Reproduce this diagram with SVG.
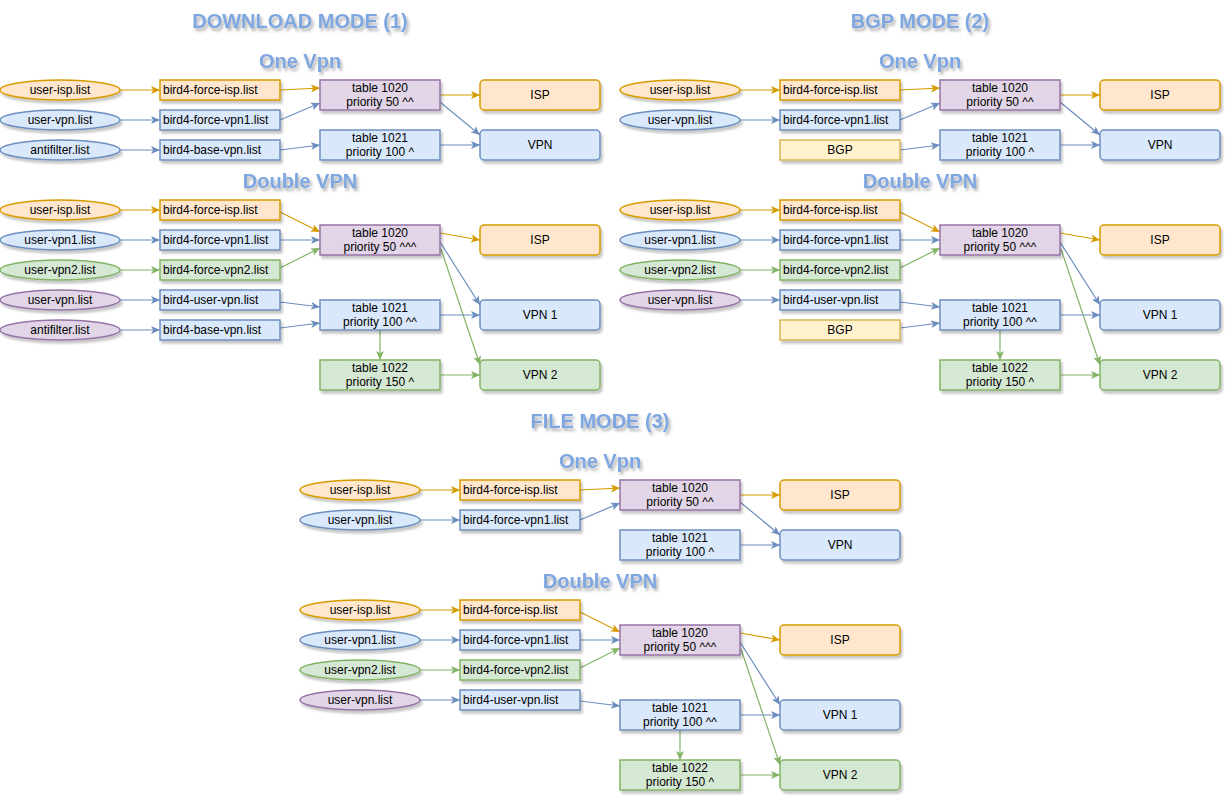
<svg xmlns="http://www.w3.org/2000/svg" xmlns:xlink="http://www.w3.org/1999/xlink" width="1232" height="810" viewBox="0 0 1232 810">
<style>
.o{fill:#ffe6cc;stroke:#d79b00}
.b{fill:#dae8fc;stroke:#6c8ebf}
.g{fill:#d5e8d4;stroke:#82b366}
.p{fill:#e1d5e7;stroke:#9673a6}
.y{fill:#fff2cc;stroke:#d6b656}
rect,ellipse{stroke-width:1.5;filter:url(#sh)}
text{font-family:"Liberation Sans",Arial,sans-serif;font-size:12px;fill:#000}
.c{text-anchor:middle}
.h{font-size:20px;font-weight:bold;fill:#7ea6e0;text-anchor:middle;filter:url(#ts)}
.eo{stroke:#d79b00;fill:none;stroke-width:1.2;marker-end:url(#ao)}
.eb{stroke:#6c8ebf;fill:none;stroke-width:1.2;marker-end:url(#ab)}
.eg{stroke:#82b366;fill:none;stroke-width:1.2;marker-end:url(#ag)}
</style>
<defs>
<filter id="sh" x="-20%" y="-30%" width="140%" height="170%"><feDropShadow dx="2" dy="3" stdDeviation="1.2" flood-color="#000" flood-opacity="0.22"/></filter>
<filter id="ts" x="-10%" y="-30%" width="120%" height="170%"><feDropShadow dx="2" dy="3" stdDeviation="1.5" flood-color="#000" flood-opacity="0.3"/></filter>
<marker id="ao" markerUnits="userSpaceOnUse" markerWidth="10" markerHeight="10" viewBox="0 0 10 10" refX="9" refY="5" orient="auto"><path d="M0,1 L9,5 L0,9 L2.2,5 z" fill="#d79b00"/></marker>
<marker id="ab" markerUnits="userSpaceOnUse" markerWidth="10" markerHeight="10" viewBox="0 0 10 10" refX="9" refY="5" orient="auto"><path d="M0,1 L9,5 L0,9 L2.2,5 z" fill="#6c8ebf"/></marker>
<marker id="ag" markerUnits="userSpaceOnUse" markerWidth="10" markerHeight="10" viewBox="0 0 10 10" refX="9" refY="5" orient="auto"><path d="M0,1 L9,5 L0,9 L2.2,5 z" fill="#82b366"/></marker>
</defs>
<rect x="0" y="0" width="1232" height="810" fill="#ffffff" style="filter:none;stroke:none"/>

<g id="titles">
<text class="h" x="300" y="28">DOWNLOAD MODE (1)</text>
<text class="h" x="300" y="68">One Vpn</text>
<text class="h" x="300" y="188">Double VPN</text>
<text class="h" x="920" y="28">BGP MODE (2)</text>
<text class="h" x="920" y="68">One Vpn</text>
<text class="h" x="920" y="188">Double VPN</text>
<text class="h" x="600" y="428">FILE MODE (3)</text>
<text class="h" x="600" y="468">One Vpn</text>
<text class="h" x="600" y="588">Double VPN</text>
</g>

<!-- DOWNLOAD MODE -->
<g id="download">
<g id="connectors-d">
<path class="eo" d="M120,90 L160,90"/>
<path class="eb" d="M120,120 L160,120"/>
<path class="eb" d="M120,150 L160,150"/>
<path class="eo" d="M280,90 L320,88"/>
<path class="eb" d="M280,120 L320,103"/>
<path class="eb" d="M280,150 L320,145"/>
<path class="eo" d="M440,95 L480,95"/>
<path class="eb" d="M440,102 L480,135"/>
<path class="eb" d="M440,145 L480,145"/>
<path class="eo" d="M120,210 L160,210"/>
<path class="eb" d="M120,240 L160,240"/>
<path class="eg" d="M120,270 L160,270"/>
<path class="eb" d="M120,300 L160,300"/>
<path class="eb" d="M120,330 L160,330"/>
<path class="eo" d="M280,212 L320,232"/>
<path class="eb" d="M280,240 L320,240"/>
<path class="eg" d="M280,268 L320,248"/>
<path class="eb" d="M280,302 L320,307"/>
<path class="eb" d="M280,328 L320,323"/>
<path class="eo" d="M440,233 L480,240"/>
<path class="eb" d="M440,242 L480,305"/>
<path class="eg" d="M441,249 L480,365"/>
<path class="eb" d="M440,315 L480,315"/>
<path class="eg" d="M380,330 L380,360"/>
<path class="eg" d="M440,375 L480,375"/>
</g>
<g id="d1-user-isp"><ellipse class="o" cx="60" cy="90" rx="60" ry="10"/><text class="c" x="60" y="94">user-isp.list</text></g>
<g id="d1-user-vpn"><ellipse class="b" cx="60" cy="120" rx="60" ry="10"/><text class="c" x="60" y="124">user-vpn.list</text></g>
<g id="d1-antifilter"><ellipse class="b" cx="60" cy="150" rx="60" ry="10"/><text class="c" x="60" y="154">antifilter.list</text></g>
<g id="d1-force-isp"><rect class="o" x="160" y="80" width="120" height="20"/><text x="163" y="94">bird4-force-isp.list</text></g>
<g id="d1-force-vpn1"><rect class="b" x="160" y="110" width="120" height="20"/><text x="163" y="124">bird4-force-vpn1.list</text></g>
<g id="d1-base-vpn"><rect class="b" x="160" y="140" width="120" height="20"/><text x="163" y="154">bird4-base-vpn.list</text></g>
<g id="d1-t1020"><rect class="p" x="320" y="80" width="120" height="30"/><text class="c" x="380" y="92">table 1020</text><text class="c" x="380" y="106">priority 50 ^^</text></g>
<g id="d1-t1021"><rect class="b" x="320" y="130" width="120" height="30"/><text class="c" x="380" y="142">table 1021</text><text class="c" x="380" y="156">priority 100 ^</text></g>
<g id="d1-isp"><rect class="o" x="480" y="80" width="120" height="30" rx="4"/><text class="c" x="540" y="99">ISP</text></g>
<g id="d1-vpn"><rect class="b" x="480" y="130" width="120" height="30" rx="4"/><text class="c" x="540" y="149">VPN</text></g>

<g id="d2-user-isp"><ellipse class="o" cx="60" cy="210" rx="60" ry="10"/><text class="c" x="60" y="214">user-isp.list</text></g>
<g id="d2-user-vpn1"><ellipse class="b" cx="60" cy="240" rx="60" ry="10"/><text class="c" x="60" y="244">user-vpn1.list</text></g>
<g id="d2-user-vpn2"><ellipse class="g" cx="60" cy="270" rx="60" ry="10"/><text class="c" x="60" y="274">user-vpn2.list</text></g>
<g id="d2-user-vpn"><ellipse class="p" cx="60" cy="300" rx="60" ry="10"/><text class="c" x="60" y="304">user-vpn.list</text></g>
<g id="d2-antifilter"><ellipse class="p" cx="60" cy="330" rx="60" ry="10"/><text class="c" x="60" y="334">antifilter.list</text></g>
<g id="d2-force-isp"><rect class="o" x="160" y="200" width="120" height="20"/><text x="163" y="214">bird4-force-isp.list</text></g>
<g id="d2-force-vpn1"><rect class="b" x="160" y="230" width="120" height="20"/><text x="163" y="244">bird4-force-vpn1.list</text></g>
<g id="d2-force-vpn2"><rect class="g" x="160" y="260" width="120" height="20"/><text x="163" y="274">bird4-force-vpn2.list</text></g>
<g id="d2-user-vpn-list"><rect class="b" x="160" y="290" width="120" height="20"/><text x="163" y="304">bird4-user-vpn.list</text></g>
<g id="d2-base-vpn"><rect class="b" x="160" y="320" width="120" height="20"/><text x="163" y="334">bird4-base-vpn.list</text></g>
<g id="d2-t1020"><rect class="p" x="320" y="225" width="120" height="30"/><text class="c" x="380" y="237">table 1020</text><text class="c" x="380" y="251">priority 50 ^^^</text></g>
<g id="d2-t1021"><rect class="b" x="320" y="300" width="120" height="30"/><text class="c" x="380" y="312">table 1021</text><text class="c" x="380" y="326">priority 100 ^^</text></g>
<g id="d2-t1022"><rect class="g" x="320" y="360" width="120" height="30"/><text class="c" x="380" y="372">table 1022</text><text class="c" x="380" y="386">priority 150 ^</text></g>
<g id="d2-isp"><rect class="o" x="480" y="225" width="120" height="30" rx="4"/><text class="c" x="540" y="244">ISP</text></g>
<g id="d2-vpn1"><rect class="b" x="480" y="300" width="120" height="30" rx="4"/><text class="c" x="540" y="319">VPN 1</text></g>
<g id="d2-vpn2"><rect class="g" x="480" y="360" width="120" height="30" rx="4"/><text class="c" x="540" y="379">VPN 2</text></g>
</g>

<!-- BGP MODE -->
<g id="bgp" transform="translate(620,0)">
<g id="connectors-b">
<path class="eo" d="M120,90 L160,90"/>
<path class="eb" d="M120,120 L160,120"/>
<path class="eo" d="M280,90 L320,88"/>
<path class="eb" d="M280,120 L320,103"/>
<path class="eb" d="M280,150 L320,145"/>
<path class="eo" d="M440,95 L480,95"/>
<path class="eb" d="M440,102 L480,135"/>
<path class="eb" d="M440,145 L480,145"/>
<path class="eo" d="M120,210 L160,210"/>
<path class="eb" d="M120,240 L160,240"/>
<path class="eg" d="M120,270 L160,270"/>
<path class="eb" d="M120,300 L160,300"/>
<path class="eo" d="M280,212 L320,232"/>
<path class="eb" d="M280,240 L320,240"/>
<path class="eg" d="M280,268 L320,248"/>
<path class="eb" d="M280,302 L320,307"/>
<path class="eb" d="M280,328 L320,323"/>
<path class="eo" d="M440,233 L480,240"/>
<path class="eb" d="M440,242 L480,305"/>
<path class="eg" d="M441,249 L480,365"/>
<path class="eb" d="M440,315 L480,315"/>
<path class="eg" d="M380,330 L380,360"/>
<path class="eg" d="M440,375 L480,375"/>
</g>
<g id="b1-user-isp"><ellipse class="o" cx="60" cy="90" rx="60" ry="10"/><text class="c" x="60" y="94">user-isp.list</text></g>
<g id="b1-user-vpn"><ellipse class="b" cx="60" cy="120" rx="60" ry="10"/><text class="c" x="60" y="124">user-vpn.list</text></g>
<g id="b1-force-isp"><rect class="o" x="160" y="80" width="120" height="20"/><text x="163" y="94">bird4-force-isp.list</text></g>
<g id="b1-force-vpn1"><rect class="b" x="160" y="110" width="120" height="20"/><text x="163" y="124">bird4-force-vpn1.list</text></g>
<g id="b1-bgp"><rect class="y" x="160" y="140" width="120" height="20"/><text class="c" x="220" y="154">BGP</text></g>
<g id="b1-t1020"><rect class="p" x="320" y="80" width="120" height="30"/><text class="c" x="380" y="92">table 1020</text><text class="c" x="380" y="106">priority 50 ^^</text></g>
<g id="b1-t1021"><rect class="b" x="320" y="130" width="120" height="30"/><text class="c" x="380" y="142">table 1021</text><text class="c" x="380" y="156">priority 100 ^</text></g>
<g id="b1-isp"><rect class="o" x="480" y="80" width="120" height="30" rx="4"/><text class="c" x="540" y="99">ISP</text></g>
<g id="b1-vpn"><rect class="b" x="480" y="130" width="120" height="30" rx="4"/><text class="c" x="540" y="149">VPN</text></g>

<g id="b2-user-isp"><ellipse class="o" cx="60" cy="210" rx="60" ry="10"/><text class="c" x="60" y="214">user-isp.list</text></g>
<g id="b2-user-vpn1"><ellipse class="b" cx="60" cy="240" rx="60" ry="10"/><text class="c" x="60" y="244">user-vpn1.list</text></g>
<g id="b2-user-vpn2"><ellipse class="g" cx="60" cy="270" rx="60" ry="10"/><text class="c" x="60" y="274">user-vpn2.list</text></g>
<g id="b2-user-vpn"><ellipse class="p" cx="60" cy="300" rx="60" ry="10"/><text class="c" x="60" y="304">user-vpn.list</text></g>
<g id="b2-force-isp"><rect class="o" x="160" y="200" width="120" height="20"/><text x="163" y="214">bird4-force-isp.list</text></g>
<g id="b2-force-vpn1"><rect class="b" x="160" y="230" width="120" height="20"/><text x="163" y="244">bird4-force-vpn1.list</text></g>
<g id="b2-force-vpn2"><rect class="g" x="160" y="260" width="120" height="20"/><text x="163" y="274">bird4-force-vpn2.list</text></g>
<g id="b2-user-vpn-list"><rect class="b" x="160" y="290" width="120" height="20"/><text x="163" y="304">bird4-user-vpn.list</text></g>
<g id="b2-bgp"><rect class="y" x="160" y="320" width="120" height="20"/><text class="c" x="220" y="334">BGP</text></g>
<g id="b2-t1020"><rect class="p" x="320" y="225" width="120" height="30"/><text class="c" x="380" y="237">table 1020</text><text class="c" x="380" y="251">priority 50 ^^^</text></g>
<g id="b2-t1021"><rect class="b" x="320" y="300" width="120" height="30"/><text class="c" x="380" y="312">table 1021</text><text class="c" x="380" y="326">priority 100 ^^</text></g>
<g id="b2-t1022"><rect class="g" x="320" y="360" width="120" height="30"/><text class="c" x="380" y="372">table 1022</text><text class="c" x="380" y="386">priority 150 ^</text></g>
<g id="b2-isp"><rect class="o" x="480" y="225" width="120" height="30" rx="4"/><text class="c" x="540" y="244">ISP</text></g>
<g id="b2-vpn1"><rect class="b" x="480" y="300" width="120" height="30" rx="4"/><text class="c" x="540" y="319">VPN 1</text></g>
<g id="b2-vpn2"><rect class="g" x="480" y="360" width="120" height="30" rx="4"/><text class="c" x="540" y="379">VPN 2</text></g>
</g>

<!-- FILE MODE -->
<g id="file" transform="translate(300,400)">
<g id="connectors-f">
<path class="eo" d="M120,90 L160,90"/>
<path class="eb" d="M120,120 L160,120"/>
<path class="eo" d="M280,90 L320,88"/>
<path class="eb" d="M280,120 L320,103"/>
<path class="eo" d="M440,95 L480,95"/>
<path class="eb" d="M440,102 L480,135"/>
<path class="eb" d="M440,145 L480,145"/>
<path class="eo" d="M120,210 L160,210"/>
<path class="eb" d="M120,240 L160,240"/>
<path class="eg" d="M120,270 L160,270"/>
<path class="eb" d="M120,300 L160,300"/>
<path class="eo" d="M280,212 L320,232"/>
<path class="eb" d="M280,240 L320,240"/>
<path class="eg" d="M280,268 L320,248"/>
<path class="eb" d="M280,301 L320,306"/>
<path class="eo" d="M440,233 L480,240"/>
<path class="eb" d="M440,242 L480,305"/>
<path class="eg" d="M441,249 L480,365"/>
<path class="eb" d="M440,315 L480,315"/>
<path class="eg" d="M380,330 L380,360"/>
<path class="eg" d="M440,375 L480,375"/>
</g>
<g id="f1-user-isp"><ellipse class="o" cx="60" cy="90" rx="60" ry="10"/><text class="c" x="60" y="94">user-isp.list</text></g>
<g id="f1-user-vpn"><ellipse class="b" cx="60" cy="120" rx="60" ry="10"/><text class="c" x="60" y="124">user-vpn.list</text></g>
<g id="f1-force-isp"><rect class="o" x="160" y="80" width="120" height="20"/><text x="163" y="94">bird4-force-isp.list</text></g>
<g id="f1-force-vpn1"><rect class="b" x="160" y="110" width="120" height="20"/><text x="163" y="124">bird4-force-vpn1.list</text></g>
<g id="f1-t1020"><rect class="p" x="320" y="80" width="120" height="30"/><text class="c" x="380" y="92">table 1020</text><text class="c" x="380" y="106">priority 50 ^^</text></g>
<g id="f1-t1021"><rect class="b" x="320" y="130" width="120" height="30"/><text class="c" x="380" y="142">table 1021</text><text class="c" x="380" y="156">priority 100 ^</text></g>
<g id="f1-isp"><rect class="o" x="480" y="80" width="120" height="30" rx="4"/><text class="c" x="540" y="99">ISP</text></g>
<g id="f1-vpn"><rect class="b" x="480" y="130" width="120" height="30" rx="4"/><text class="c" x="540" y="149">VPN</text></g>

<g id="f2-user-isp"><ellipse class="o" cx="60" cy="210" rx="60" ry="10"/><text class="c" x="60" y="214">user-isp.list</text></g>
<g id="f2-user-vpn1"><ellipse class="b" cx="60" cy="240" rx="60" ry="10"/><text class="c" x="60" y="244">user-vpn1.list</text></g>
<g id="f2-user-vpn2"><ellipse class="g" cx="60" cy="270" rx="60" ry="10"/><text class="c" x="60" y="274">user-vpn2.list</text></g>
<g id="f2-user-vpn"><ellipse class="p" cx="60" cy="300" rx="60" ry="10"/><text class="c" x="60" y="304">user-vpn.list</text></g>
<g id="f2-force-isp"><rect class="o" x="160" y="200" width="120" height="20"/><text x="163" y="214">bird4-force-isp.list</text></g>
<g id="f2-force-vpn1"><rect class="b" x="160" y="230" width="120" height="20"/><text x="163" y="244">bird4-force-vpn1.list</text></g>
<g id="f2-force-vpn2"><rect class="g" x="160" y="260" width="120" height="20"/><text x="163" y="274">bird4-force-vpn2.list</text></g>
<g id="f2-user-vpn-list"><rect class="b" x="160" y="290" width="120" height="20"/><text x="163" y="304">bird4-user-vpn.list</text></g>
<g id="f2-t1020"><rect class="p" x="320" y="225" width="120" height="30"/><text class="c" x="380" y="237">table 1020</text><text class="c" x="380" y="251">priority 50 ^^^</text></g>
<g id="f2-t1021"><rect class="b" x="320" y="300" width="120" height="30"/><text class="c" x="380" y="312">table 1021</text><text class="c" x="380" y="326">priority 100 ^^</text></g>
<g id="f2-t1022"><rect class="g" x="320" y="360" width="120" height="30"/><text class="c" x="380" y="372">table 1022</text><text class="c" x="380" y="386">priority 150 ^</text></g>
<g id="f2-isp"><rect class="o" x="480" y="225" width="120" height="30" rx="4"/><text class="c" x="540" y="244">ISP</text></g>
<g id="f2-vpn1"><rect class="b" x="480" y="300" width="120" height="30" rx="4"/><text class="c" x="540" y="319">VPN 1</text></g>
<g id="f2-vpn2"><rect class="g" x="480" y="360" width="120" height="30" rx="4"/><text class="c" x="540" y="379">VPN 2</text></g>
</g>
</svg>
